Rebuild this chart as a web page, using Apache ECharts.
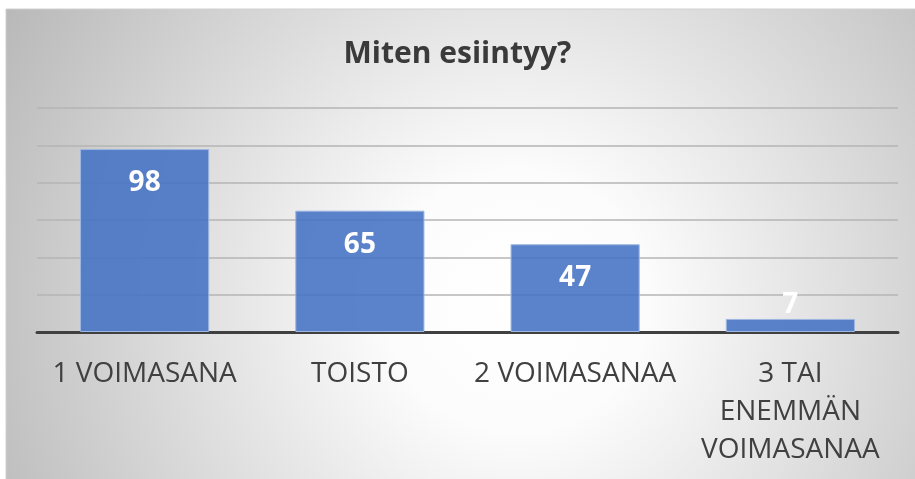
<!DOCTYPE html>
<html>
<head>
<meta charset="utf-8">
<script src="https://cdn.jsdelivr.net/npm/echarts@6/dist/echarts.min.js"></script>
<style>
html,body{margin:0;padding:0;background:#fff;}
#c{width:915px;height:479px;}
</style>
</head>
<body>
<div id="c"></div>
<script>
const title = 'Miten esiintyy?';
const categories = ['1 VOIMASANA', 'TOISTO', '2 VOIMASANAA', '3 TAI\nENEMMÄN\nVOIMASANAA'];
const values = [98, 65, 47, 7];
const yMin = 0, yMax = 120, yInterval = 20;

const chart = echarts.init(document.getElementById('c'), null, {renderer: 'canvas'});
const font = '"Open Sans", "Noto Sans", sans-serif';

const barData = values.map(v => {
  const item = {value: v};
  if (v < 15) {
    item.label = {position: 'top', distance: 0};
  }
  return item;
});

chart.setOption({
  animation: false,
  backgroundColor: '#ffffff',
  graphic: [{
    type: 'rect',
    z: -10,
    silent: true,
    shape: {x: 6, y: 9, width: 912, height: 472},
    style: {
      fill: {
        type: 'radial', x: 0.56, y: 0.62, r: 1.25,
        colorStops: [
          {offset: 0, color: '#ffffff'},
          {offset: 0.22, color: '#fcfcfc'},
          {offset: 1, color: '#b8b8b8'}
        ]
      },
      stroke: '#d0d0d0',
      lineWidth: 1
    }
  }],
  title: {
    text: title,
    left: 'center',
    top: 34,
    textStyle: {fontFamily: font, fontSize: 30, fontWeight: 'bold', color: '#3a3a3a'}
  },
  grid: {left: 37, right: 17, top: 108, bottom: 147, containLabel: false},
  xAxis: {
    type: 'category',
    data: categories,
    axisLine: {show: true, lineStyle: {color: '#404040', width: 3}},
    axisTick: {show: false},
    axisLabel: {
      interval: 0,
      margin: 23,
      fontFamily: font,
      fontSize: 28,
      lineHeight: 38,
      color: '#404040'
    }
  },
  yAxis: {
    type: 'value',
    min: yMin, max: yMax, interval: yInterval,
    axisLine: {show: false},
    axisTick: {show: false},
    axisLabel: {show: false},
    splitLine: {lineStyle: {color: '#b4b4b4', width: 1.5}}
  },
  series: [{
    type: 'bar',
    data: barData,
    barCategoryGap: '40%',
    itemStyle: {color: 'rgba(68,114,196,0.88)', borderColor: '#9db6e2', borderWidth: 1},
    label: {
      show: true,
      position: 'insideTop',
      distance: 20,
      fontFamily: font,
      fontSize: 28,
      fontWeight: 'bold',
      color: '#ffffff'
    }
  }]
});
</script>
</body>
</html>
